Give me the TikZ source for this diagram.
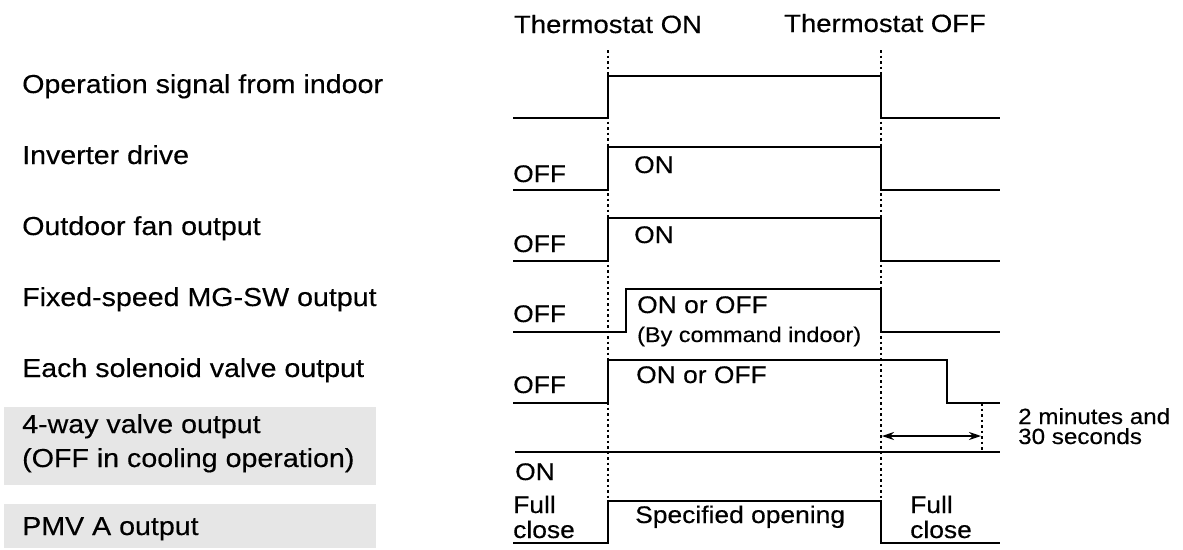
\documentclass[tikz,border=0pt]{standalone}
\usepackage{fontspec}
\setmainfont{Liberation Sans}[FakeStretch=1.1,FakeBold=0.35]
\usetikzlibrary{arrows.meta}
\definecolor{boxgrey}{HTML}{E6E6E6}
\tikzset{
  lab/.style={font=\fontsize{26}{30}\selectfont, anchor=base west, inner sep=0pt},
  sig/.style={font=\fontsize{24}{28}\selectfont, anchor=base west, inner sep=0pt},
  small/.style={font=\fontsize{21.3}{24}\selectfont, anchor=base west, inner sep=0pt},
  note/.style={font=\fontsize{22}{24}\selectfont, anchor=base west, inner sep=0pt},
  wave/.style={line width=2.8pt, line join=miter},
  guide/.style={line width=2.2pt, dash pattern=on 2.5pt off 3pt},
}
\begin{document}
\begin{tikzpicture}[x=1pt,y=-1pt]
\useasboundingbox (0,0) rectangle (1183,549);
% grey boxes
\fill[boxgrey] (4,407) rectangle (376,485);
\fill[boxgrey] (4,504) rectangle (376,548);
% header
\node[font=\fontsize{25}{28}\selectfont, anchor=base, inner sep=0pt] (thon) at (608,33) {Thermostat ON};
\node[font=\fontsize{25}{28}\selectfont, anchor=base, inner sep=0pt] (thoff) at (885,32) {Thermostat OFF};
% left labels
\node[lab] (l1) at (22,93) {Operation signal from indoor};
\node[lab] (l2) at (22,164) {Inverter drive};
\node[lab] (l3) at (22,235) {Outdoor fan output};
\node[lab] (l4) at (22,306) {Fixed-speed MG-SW output};
\node[lab] (l5) at (22,377) {Each solenoid valve output};
\node[lab] (l6a) at (22,433) {4-way valve output};
\node[lab] (l6b) at (22,467) {(OFF in cooling operation)};
\node[lab] (l7) at (22,535) {PMV A output};
% guide lines
\draw[guide] (608,50) -- (608,501);
\draw[guide] (881,50) -- (881,501);
\draw[guide] (982,403) -- (982,452);
% waveforms
\draw[wave] (513,118) -- (608,118) -- (608,76) -- (881,76) -- (881,118) -- (1000,118);
\draw[wave] (513,190) -- (608,190) -- (608,147) -- (881,147) -- (881,190) -- (1000,190);
\draw[wave] (513,261) -- (608,261) -- (608,218) -- (881,218) -- (881,261) -- (1000,261);
\draw[wave] (513,332) -- (626,332) -- (626,289) -- (881,289) -- (881,332) -- (1000,332);
\draw[wave] (513,403) -- (608,403) -- (608,360) -- (947,360) -- (947,403) -- (1000,403);
\draw[wave] (515,452) -- (1000,452);
\draw[wave] (513,543) -- (608,543) -- (608,501) -- (881,501) -- (881,543) -- (1000,543);
% signal labels
\node[sig] (off2) at (513,182) {OFF};
\node[sig] (on2) at (634,173) {ON};
\node[sig] (off3) at (513,252) {OFF};
\node[sig] (on3) at (634,243) {ON};
\node[sig] (off4) at (513,322) {OFF};
\node[sig] (on4) at (637,313) {ON or OFF};
\node[small] (cmd4) at (637,342) {(By command indoor)};
\node[sig] (off5) at (513,393) {OFF};
\node[sig] (on5) at (636,383) {ON or OFF};
\node[sig] (on6) at (515,480) {ON};
\node[sig] (fc1a) at (513,513) {Full};
\node[sig] (fc1b) at (513,538) {close};
\node[sig] (spec) at (635,523) {Specified opening};
\node[sig] (fc2a) at (910,513) {Full};
\node[sig] (fc2b) at (910,538) {close};
\node[note] (t1) at (1018,424) {2 minutes and};
\node[note] (t2) at (1018,444) {30 seconds};
% time arrow
\coordinate (ta) at (882,436);
\coordinate (tb) at (981,436);
\draw[line width=1.3pt, {Stealth[length=12pt,width=8pt]}-{Stealth[length=12pt,width=8pt]}] (ta) -- (tb);
\end{tikzpicture}
\end{document}
